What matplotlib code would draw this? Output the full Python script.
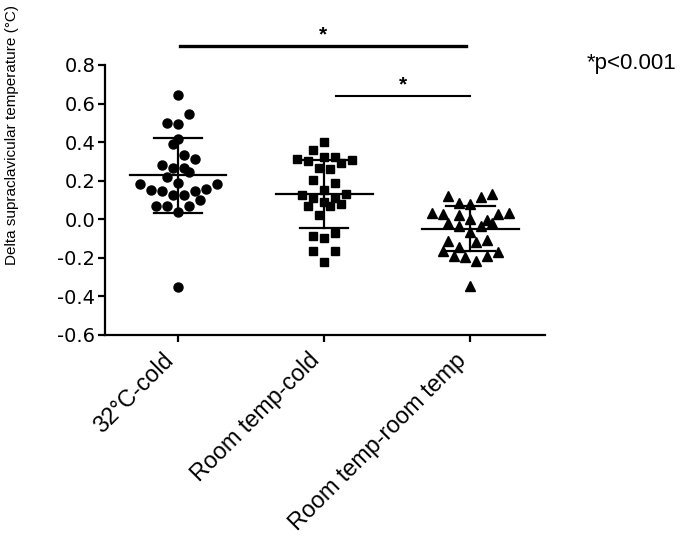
import matplotlib
matplotlib.use('Agg')
import matplotlib.pyplot as plt
import numpy as np

plt.rcParams['font.family'] = ['Liberation Sans', 'DejaVu Sans']

# group labels and markers
groups = ['32°C-cold', 'Room temp-cold', 'Room temp-room temp']
markers = ['o', 's', '^']
marker_sizes = [6.5, 6, 7]

# delta temperatures, with the scatter column (slot) of each point
cold32_vals = [0.644, 0.544, 0.498, 0.492, 0.415, 0.389, 0.333, 0.311, 0.281, 0.264,
               0.265, 0.247, 0.218, 0.190, 0.181, 0.181, 0.157, 0.152, 0.146, 0.146,
               0.126, 0.126, 0.100, 0.071, 0.071, 0.071, 0.040, -0.349]
cold32_slot = [0, 2, -2, 0, 0, -1, 1, 3, -3, -1,
               1, 2, -2, 0, -7, 7, 5, -5, -3, 3,
               -1, 1, 4, -4, -2, 2, 0, 0]

roomcold_vals = [0.402, 0.359, 0.311, 0.302, 0.325, 0.325, 0.293, 0.307, 0.264, 0.259,
                 0.204, 0.187, 0.152, 0.126, 0.131, 0.109, 0.109, 0.069, 0.091, 0.069,
                 0.079, 0.022, -0.069, -0.087, -0.099, -0.164, -0.164, -0.220]
roomcold_slot = [0, -2, -5, -3, 0, 2, 3, 5, -1, 1,
                 -2, 2, 0, -4, 4, -2, 2, -3, 0, 1,
                 3, -1, 2, -2, 0, -2, 2, 0]

roomroom_vals = [0.121, 0.114, 0.131, 0.086, 0.079, 0.034, 0.027, 0.022, 0.027, 0.034,
                 0.000, -0.004, -0.021, -0.035, -0.035, -0.021, -0.064, -0.112, -0.116, -0.107,
                 -0.142, -0.164, -0.168, -0.190, -0.197, -0.190, -0.215, -0.346]
roomroom_slot = [-4, 2, 4, -2, 0, -7, -5, -2, 5, 7,
                 0, 3, -4, -2, 2, 4, 0, -4, 1, 3,
                 -2, -5, 5, -3, -1, 3, 1, 0]

# mean and SD as drawn
means = [0.227, 0.132, -0.050]
sds = [0.193, 0.175, 0.117]

all_vals = [cold32_vals, roomcold_vals, roomroom_vals]
all_slots = [cold32_slot, roomcold_slot, roomroom_slot]

fig = plt.figure(figsize=(6.85, 5.37), dpi=100)
ax = fig.add_axes([0.1533, 0.3762, 0.6423, 0.5028])

slot_w = 0.0377
for i in range(3):
    x = i + np.array(all_slots[i]) * slot_w
    ax.plot(x, all_vals[i], ls='', marker=markers[i], ms=marker_sizes[i],
            color='black', mec='black', zorder=3)
    m, s = means[i], sds[i]
    ax.plot([i - 0.33, i + 0.33], [m, m], color='black', lw=1.6, zorder=4)
    ax.plot([i, i], [m - s, m + s], color='black', lw=1.6, zorder=4)
    for y in (m - s, m + s):
        ax.plot([i - 0.165, i + 0.165], [y, y], color='black', lw=1.6, zorder=4)

# significance bars
ax.plot([0.01, 1.97], [0.898, 0.898], color='black', lw=2.4, clip_on=False)
ax.text(0.99, 0.905, '*', ha='center', va='bottom', fontsize=15, fontweight='bold')
ax.plot([1.08, 2.0], [0.639, 0.639], color='black', lw=1.5, clip_on=False)
ax.text(1.54, 0.645, '*', ha='center', va='bottom', fontsize=15, fontweight='bold')

ax.set_xlim(-0.5, 2.51)
ax.set_ylim(-0.6, 0.8)
yt = np.arange(-0.6, 0.81, 0.2)
ax.set_yticks(yt)
ax.set_yticklabels(['%.1f' % v for v in yt], fontsize=14, family=['DejaVu Sans'])
ax.set_xticks(range(3))
ax.set_xticklabels(groups, rotation=45, ha='right', fontsize=16.8)

for side in ['top', 'right']:
    ax.spines[side].set_visible(False)
for side in ['left', 'bottom']:
    ax.spines[side].set_linewidth(1.6)
ax.tick_params(axis='both', direction='out', length=5, width=1.6)
ax.tick_params(axis='x', pad=5)
ax.tick_params(axis='y', pad=2)

fig.text(0.018, 0.5065, 'Delta supraclavicular temperature (°C)', rotation=90,
         ha='center', va='bottom', fontsize=11)
fig.text(0.857, 0.882, '*p<0.001', ha='left', va='center', fontsize=16)

fig.savefig('out.png', dpi=100)
